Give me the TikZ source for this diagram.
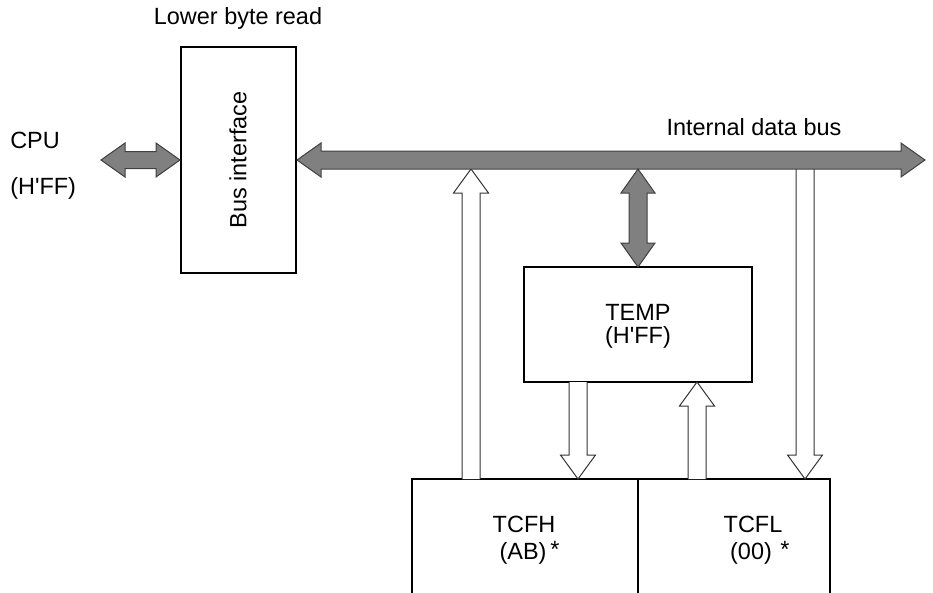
\documentclass[tikz,border=0pt]{standalone}
\usepackage{fontspec}
\setmainfont{Liberation Sans}
\begin{document}
\begin{tikzpicture}[x=0.75pt,y=-0.75pt,
  box/.style={draw=black,line width=0.8pt,fill=white,inner sep=0pt},
  lbl/.style={inner sep=0pt,font=\fontsize{17.6}{21}\selectfont},
  hollow/.style={draw=black!80,line width=0.75pt,fill=white},
  solid/.style={draw=black!75,line width=0.75pt,fill=black!50,line join=miter}]
\useasboundingbox (0,0) rectangle (933,593);
\clip (0,0) rectangle (933,593);
% boxes
\node[box,minimum width=115*0.75pt,minimum height=226*0.75pt] (bif) at (238.5,160) {};
\node[box,minimum width=228*0.75pt,minimum height=115*0.75pt] (temp) at (638,324.5) {};
\node[box,minimum width=226*0.75pt,minimum height=142*0.75pt] (tcfh) at (525,550) {};
\node[box,minimum width=192*0.75pt,minimum height=142*0.75pt] (tcfl) at (734,550) {};
% texts
\node[lbl] (lbr) at (238,18) {Lower byte read};
\node[lbl,rotate=90] (bit) at (238,160) {Bus interface};
\node[lbl,anchor=west] (cpu) at (10,140) {CPU};
\node[lbl,anchor=west] (cpuv) at (10,188) {(H\textquotesingle FF)};
\node[lbl] (idb) at (754,127) {Internal data bus};
\node[lbl] (tempt) at (638,312) {TEMP};
\node[lbl] (tempv) at (638,337) {(H\textquotesingle FF)};
\node[lbl] (tcfht) at (524,524) {TCFH};
\node[lbl] (tcfhv) at (523,553) {(AB)};
\node[lbl] (tcfhs) at (555,549) {*};
\node[lbl] (tcflt) at (753,524) {TCFL};
\node[lbl] (tcflv) at (751,553) {(00)};
\node[lbl] (tcfls) at (785,549) {*};
% hollow arrows
% TCFH -> bus (up)
\draw[hollow] (462,479) -- (462,193) -- (453.5,193) -- (471,169) -- (488.5,193) -- (480,193) -- (480,479);
% bus -> TCFL (down)
\draw[hollow] (796,160) -- (796,455) -- (787.5,455) -- (805,479) -- (822.5,455) -- (814,455) -- (814,160);
% TEMP -> TCFH (down)
\draw[hollow] (569,382) -- (569,455) -- (560.5,455) -- (578,479) -- (595.5,455) -- (587,455) -- (587,382);
% TCFL -> TEMP (up)
\draw[hollow] (688,479) -- (688,406) -- (679.5,406) -- (697,382) -- (714.5,406) -- (706,406) -- (706,479);
% internal data bus
\draw[solid] (297,160) -- (321,143) -- (321,151) -- (901,151) -- (901,143) -- (925,160) -- (901,177) -- (901,169) -- (321,169) -- (321,177) -- cycle;
% CPU <-> bus interface
\draw[solid] (101,160) -- (125,143) -- (125,151.5) -- (156,151.5) -- (156,143) -- (180,160) -- (156,177) -- (156,168.5) -- (125,168.5) -- (125,177) -- cycle;
% bus <-> TEMP
\draw[solid] (638,169) -- (655,193) -- (647,193) -- (647,243) -- (655,243) -- (638,267) -- (621,243) -- (629,243) -- (629,193) -- (621,193) -- cycle;
\end{tikzpicture}
\end{document}
